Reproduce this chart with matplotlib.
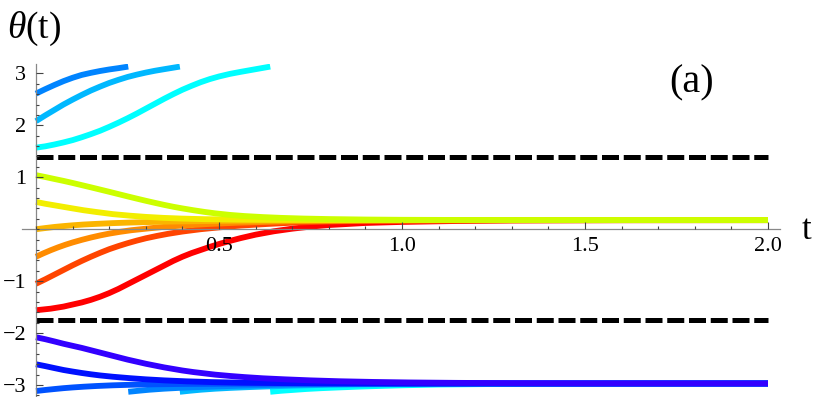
import os
import matplotlib
matplotlib.use('Agg')
import matplotlib.pyplot as plt
from matplotlib.font_manager import FontProperties
from matplotlib.ticker import MultipleLocator, FixedLocator

SERIF = '/usr/share/fonts/truetype/liberation/LiberationSerif-Regular.ttf'
plt.rcParams['font.family'] = 'Liberation Serif'
plt.rcParams['mathtext.fontset'] = 'custom'
plt.rcParams['mathtext.rm'] = 'Liberation Serif'
plt.rcParams['mathtext.it'] = 'Liberation Serif:italic'

# phase trajectories, in hue order (red -> violet)
t_red = [0, 0.04, 0.075, 0.10, 0.125, 0.15, 0.175, 0.20, 0.225, 0.25, 0.275, 0.30, 0.325, 0.35, 0.375, 0.40, 0.425,
         0.45, 0.475, 0.50, 0.53, 0.56, 0.60, 0.65, 0.70, 0.75, 0.80, 0.90, 1.0, 1.15, 1.3, 1.6, 2.0]
th_red = [-1.56, -1.53, -1.49, -1.45, -1.41, -1.36, -1.30, -1.23, -1.15, -1.06, -0.97, -0.88, -0.79, -0.70, -0.61, -0.53, -0.46,
          -0.40, -0.34, -0.285, -0.225, -0.17, -0.105, -0.04, 0.01, 0.05, 0.08, 0.12, 0.14, 0.158, 0.168, 0.174, 0.175]

t_redorange = [0, 0.025, 0.05, 0.075, 0.10, 0.125, 0.15, 0.175, 0.20, 0.225, 0.25, 0.275, 0.30, 0.33, 0.36, 0.40, 0.45,
               0.5, 0.56, 0.63, 0.7, 0.8, 0.9, 1.05, 1.3, 2.0]
th_redorange = [-1.05, -0.965, -0.875, -0.785, -0.695, -0.61, -0.53, -0.455, -0.385, -0.325, -0.27, -0.22, -0.175, -0.13,
                -0.09, -0.045, 0.0, 0.035, 0.07, 0.10, 0.125, 0.148, 0.16, 0.168, 0.173, 0.175]

t_orange = [0, 0.02, 0.04, 0.06, 0.08, 0.10, 0.125, 0.15, 0.175, 0.20, 0.23, 0.26, 0.30, 0.35, 0.4, 0.47, 0.55, 0.65,
            0.75, 0.9, 1.1, 1.4, 2.0]
th_orange = [-0.53, -0.465, -0.405, -0.35, -0.30, -0.255, -0.205, -0.16, -0.12, -0.085, -0.05, -0.02, 0.01, 0.045, 0.07,
             0.10, 0.125, 0.145, 0.158, 0.167, 0.172, 0.175, 0.175]

t_amber = [0, 0.025, 0.05, 0.075, 0.10, 0.13, 0.166, 0.21, 0.257, 0.31, 0.37, 0.45, 0.55, 0.7, 0.9, 1.2, 2.0]
th_amber = [0.0, 0.022, 0.043, 0.06, 0.075, 0.09, 0.103, 0.117, 0.128, 0.138, 0.147, 0.155, 0.162, 0.169, 0.173, 0.175, 0.175]

t_yellow = [0, 0.025, 0.05, 0.075, 0.10, 0.13, 0.166, 0.21, 0.257, 0.30, 0.348, 0.40, 0.46, 0.55, 0.65, 0.8, 1.0, 1.3, 2.0]
th_yellow = [0.525, 0.49, 0.46, 0.43, 0.40, 0.365, 0.33, 0.29, 0.26, 0.237, 0.218, 0.204, 0.193, 0.185, 0.18, 0.177,
             0.176, 0.175, 0.175]

t_lime = [0, 0.025, 0.05, 0.075, 0.10, 0.125, 0.15, 0.175, 0.20, 0.225, 0.25, 0.275, 0.30, 0.325, 0.35, 0.375, 0.40,
          0.43, 0.46, 0.49, 0.53, 0.57, 0.62, 0.67, 0.73, 0.8, 0.9, 1.0, 1.15, 1.4, 2.0]
th_lime = [1.04, 1.005, 0.967, 0.93, 0.89, 0.848, 0.806, 0.763, 0.72, 0.676, 0.632, 0.589, 0.547, 0.507, 0.468, 0.432,
           0.40, 0.365, 0.333, 0.305, 0.275, 0.253, 0.233, 0.218, 0.205, 0.195, 0.186, 0.181, 0.178, 0.176, 0.175]

t_cyan = [0, 0.025, 0.05, 0.075, 0.10, 0.125, 0.15, 0.175, 0.20, 0.225, 0.25, 0.275, 0.30, 0.325, 0.35, 0.375, 0.40,
          0.425, 0.45, 0.475, 0.50, 0.53, 0.56, 0.60, 0.64]
th_cyan = [1.57, 1.595, 1.63, 1.67, 1.715, 1.77, 1.83, 1.895, 1.97, 2.05, 2.135, 2.225, 2.32, 2.415, 2.51, 2.60, 2.685,
           2.76, 2.83, 2.89, 2.94, 2.99, 3.03, 3.08, 3.13]
t_cyan_wrap = [0.64, 0.67, 0.70, 0.74, 0.78, 0.83, 0.885, 0.95, 1.0, 1.1, 1.25, 1.5, 2.0]
th_cyan_wrap = [-3.13, -3.11, -3.095, -3.075, -3.06, -3.045, -3.03, -3.015, -3.005, -2.99, -2.98, -2.973, -2.97]

t_sky = [0, 0.025, 0.05, 0.075, 0.10, 0.125, 0.15, 0.175, 0.20, 0.225, 0.25, 0.275, 0.30, 0.325, 0.35, 0.393]
th_sky = [2.08, 2.19, 2.295, 2.40, 2.495, 2.585, 2.67, 2.745, 2.815, 2.875, 2.93, 2.975, 3.015, 3.05, 3.08, 3.13]
t_sky_wrap = [0.393, 0.42, 0.45, 0.49, 0.53, 0.58, 0.64, 0.7, 0.8, 0.95, 1.2, 1.6, 2.0]
th_sky_wrap = [-3.13, -3.11, -3.09, -3.07, -3.055, -3.04, -3.025, -3.012, -2.995, -2.983, -2.975, -2.971, -2.97]

t_azure = [0, 0.025, 0.05, 0.075, 0.10, 0.125, 0.15, 0.175, 0.20, 0.225, 0.252]
th_azure = [2.61, 2.695, 2.775, 2.85, 2.915, 2.97, 3.01, 3.045, 3.075, 3.10, 3.13]
t_azure_wrap = [0.252, 0.28, 0.31, 0.35, 0.39, 0.44, 0.5, 0.56, 0.66, 0.8, 1.05, 1.5, 2.0]
th_azure_wrap = [-3.13, -3.11, -3.09, -3.07, -3.055, -3.04, -3.025, -3.012, -2.995, -2.983, -2.975, -2.971, -2.97]

t_blue = [0, 0.025, 0.05, 0.075, 0.10, 0.13, 0.166, 0.21, 0.257, 0.32, 0.4, 0.52, 0.7, 1.0, 2.0]
th_blue = [-3.115, -3.095, -3.077, -3.06, -3.046, -3.032, -3.018, -3.005, -2.995, -2.986, -2.979, -2.974, -2.971, -2.97, -2.97]

t_deepblue = [0, 0.025, 0.05, 0.075, 0.10, 0.125, 0.15, 0.175, 0.21, 0.257, 0.30, 0.35, 0.41, 0.48, 0.56, 0.66, 0.8, 1.0,
              1.4, 2.0]
th_deepblue = [-2.60, -2.635, -2.673, -2.71, -2.74, -2.768, -2.793, -2.815, -2.84, -2.868, -2.89, -2.91, -2.928, -2.943,
               -2.954, -2.962, -2.967, -2.969, -2.97, -2.97]

t_violet = [0, 0.025, 0.05, 0.075, 0.10, 0.125, 0.15, 0.175, 0.20, 0.225, 0.25, 0.275, 0.30, 0.325, 0.35, 0.375, 0.40,
            0.43, 0.46, 0.49, 0.53, 0.57, 0.62, 0.68, 0.75, 0.83, 0.92, 1.02, 1.15, 1.3, 1.5, 2.0]
th_violet = [-2.08, -2.117, -2.16, -2.205, -2.245, -2.285, -2.33, -2.375, -2.42, -2.465, -2.51, -2.55, -2.59, -2.625,
             -2.66, -2.69, -2.72, -2.75, -2.775, -2.80, -2.825, -2.847, -2.87, -2.89, -2.91, -2.927, -2.94, -2.95, -2.958,
             -2.964, -2.968, -2.97]

# unstable fixed points (dashed)
unstable = [1.39, -1.75]

x_ticks = [0.5, 1.0, 1.5, 2.0]
x_labels = ['0.5', '1.0', '1.5', '2.0']
y_ticks = [-3, -2, -1, 1, 2, 3]
y_labels = ['\u22123', '\u22122', '\u22121', '1', '2', '3']

curves = [
    (t_red, th_red, '#ff0000'),
    (t_redorange, th_redorange, '#ff4400'),
    (t_orange, th_orange, '#ff8c00'),
    (t_amber, th_amber, '#fbb500'),
    (t_yellow, th_yellow, '#f2ee00'),
    (t_lime, th_lime, '#ccff00'),
    (t_cyan, th_cyan, '#00ffff'),
    (t_cyan_wrap, th_cyan_wrap, '#00ffff'),
    (t_sky, th_sky, '#00b8ff'),
    (t_sky_wrap, th_sky_wrap, '#00b8ff'),
    (t_azure, th_azure, '#0084ff'),
    (t_azure_wrap, th_azure_wrap, '#0084ff'),
    (t_blue, th_blue, '#0052ff'),
    (t_deepblue, th_deepblue, '#0010ff'),
    (t_violet, th_violet, '#3300ff'),
]


def serif(size):
    if os.path.exists(SERIF):
        return FontProperties(fname=SERIF, size=size)
    return FontProperties(family='Liberation Serif', size=size)


def main():
    fig = plt.figure(figsize=(8.14, 3.97), dpi=100)
    ax = fig.add_axes([22 / 814, 0, 758 / 814, 333 / 397])

    for y in unstable:
        ax.plot([0, 2.0], [y, y], color='black', lw=3.6, dashes=[3.4, 0.95],
                dash_capstyle='butt')

    for t, th, c in curves:
        ax.plot(t, th, color=c, lw=4.2, solid_capstyle='butt', solid_joinstyle='round')

    ax.set_xlim(-0.0383, 2.0328)
    ax.set_ylim(-3.23, 3.18)

    for s in ['top', 'right']:
        ax.spines[s].set_visible(False)
    ax.spines['left'].set_position(('data', 0))
    ax.spines['bottom'].set_position(('data', 0))
    for s in ['left', 'bottom']:
        ax.spines[s].set_color('#888888')
        ax.spines[s].set_linewidth(0.9)
    ax.set_axisbelow(False)

    ax.xaxis.set_major_locator(FixedLocator(x_ticks))
    ax.xaxis.set_minor_locator(MultipleLocator(0.1))
    ax.yaxis.set_major_locator(FixedLocator(y_ticks))
    ax.yaxis.set_minor_locator(MultipleLocator(0.2))
    ax.set_xticklabels(x_labels, fontproperties=serif(16))
    ax.set_yticklabels(y_labels, fontproperties=serif(16))
    ax.tick_params(which='both', direction='in', color='#444444', width=0.8)
    ax.tick_params(which='major', length=5)
    ax.tick_params(which='minor', length=2.5)
    ax.tick_params(axis='x', pad=5.5)
    ax.tick_params(axis='y', pad=7)
    ax.patch.set_alpha(0)

    fig.text(7 / 814, 1 - 29 / 397, r'$\theta$(t)', fontsize=27, ha='left', va='center')
    fig.text(692 / 814, 1 - 83 / 397, '(a)', fontproperties=serif(29), ha='center', va='center')
    fig.text(806 / 814, 1 - 230 / 397, 't', fontproperties=serif(25), ha='center', va='center')

    fig.savefig('out.png', dpi=100)


if __name__ == '__main__':
    main()
